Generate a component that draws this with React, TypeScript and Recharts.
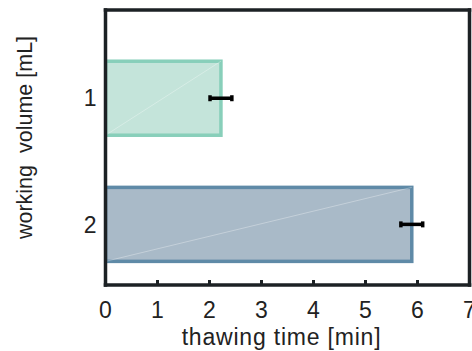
import React from 'react';
import { BarChart, Bar, XAxis, YAxis, ErrorBar, Cell, Label } from 'recharts';

// Working volume categories (mL) and measured thawing times (min)
const volumes = [1, 2];
const thawingTimes = [2.22, 5.89];
const thawingErrors = [0.21, 0.21];
const timeTicks = [0, 1, 2, 3, 4, 5, 6, 7];
const volumeTicks = [1, 2];

const barFills = ['#c4e4da', '#a9bac8'];
const barStrokes = ['#88cfba', '#5f8aa7'];

const data = volumes.map((v, i) => ({
  volume: v,
  time: thawingTimes[i],
  err: thawingErrors[i],
}));

const FONT = '"Liberation Sans", Arial, Helvetica, sans-serif';
const INK = '#1c2124';
const TEXT = '#222222';
const frameLine = { stroke: INK, strokeWidth: 3.5, strokeLinecap: 'square' as const };
const tickMark = { stroke: INK, strokeWidth: 3 };

// Bar rectangle with the faint diagonal seam of the exported patch
function SeamBar(props: any) {
  const { x, y, width, height, fill, stroke } = props;
  if (width == null || height == null) return null;
  return (
    <g>
      <rect x={x} y={y} width={width} height={height} fill={fill} stroke={stroke} strokeWidth={3.5} />
      <line
        x1={x}
        y1={y + height}
        x2={x + width}
        y2={y}
        stroke="#ffffff"
        strokeOpacity={0.4}
        strokeWidth={0.8}
      />
    </g>
  );
}

export default function App() {
  return (
    <div style={{ position: 'absolute', left: 0, top: 0, background: '#fff' }}>
      <BarChart
        width={472}
        height={351}
        data={data}
        layout="vertical"
        margin={{ top: 9, right: 1.5, bottom: 0, left: 0 }}
      >
        <XAxis
          type="number"
          domain={[0, 7]}
          ticks={timeTicks}
          interval={0}
          allowDataOverflow
          height={66}
          axisLine={frameLine}
          tickLine={tickMark}
          tickSize={-5}
          tickMargin={21.5}
          tick={{ fill: TEXT, fontSize: 23, fontFamily: FONT }}
        >
          <Label
            content={(p: any) => {
              const vb = p.viewBox || { x: 105.5, y: 285, width: 364, height: 66 };
              return (
                <text
                  x={vb.x + vb.width / 2 - 6}
                  y={vb.y + 60}
                  textAnchor="middle"
                  fill={TEXT}
                  fontSize={23}
                  fontFamily={FONT}
                  letterSpacing={0.8}
                >
                  thawing time [min]
                </text>
              );
            }}
          />
        </XAxis>
        <XAxis
          xAxisId="top"
          orientation="top"
          type="number"
          domain={[0, 7]}
          ticks={timeTicks}
          interval={0}
          allowDataOverflow
          height={1}
          axisLine={frameLine}
          tickLine={tickMark}
          tickSize={-5}
          tick={false}
        />
        <YAxis
          type="number"
          dataKey="volume"
          domain={[0.3, 2.48]}
          ticks={volumeTicks}
          interval={0}
          allowDataOverflow
          width={105.5}
          axisLine={frameLine}
          tickLine={false}
          tickSize={0}
          tickMargin={9}
          tick={{ fill: TEXT, fontSize: 23, fontFamily: FONT }}
        >
          <Label
            content={(p: any) => {
              const vb = p.viewBox || { x: 0, y: 10, width: 105.5, height: 275 };
              const cx = vb.x + 32;
              const cy = vb.y + vb.height / 2 - 10;
              return (
                <text
                  x={cx}
                  y={cy}
                  transform={`rotate(-90, ${cx}, ${cy})`}
                  textAnchor="middle"
                  fill={TEXT}
                  fontSize={21.5}
                  fontFamily={FONT}
                  style={{ whiteSpace: 'pre' }}
                >
                  {'working  volume [mL]'}
                </text>
              );
            }}
          />
        </YAxis>
        <YAxis
          yAxisId="right"
          orientation="right"
          type="number"
          domain={[0.3, 2.48]}
          allowDataOverflow
          width={1}
          axisLine={frameLine}
          tickLine={false}
          tick={false}
        />
        <Bar dataKey="time" barSize={74} isAnimationActive={false} shape={SeamBar}>
          {data.map((d, i) => (
            <Cell key={d.volume} fill={barFills[i]} stroke={barStrokes[i]} />
          ))}
          <ErrorBar
            dataKey="err"
            direction="x"
            width={3}
            stroke="#000000"
            strokeWidth={3.5}
            isAnimationActive={false}
          />
        </Bar>
      </BarChart>
    </div>
  );
}
